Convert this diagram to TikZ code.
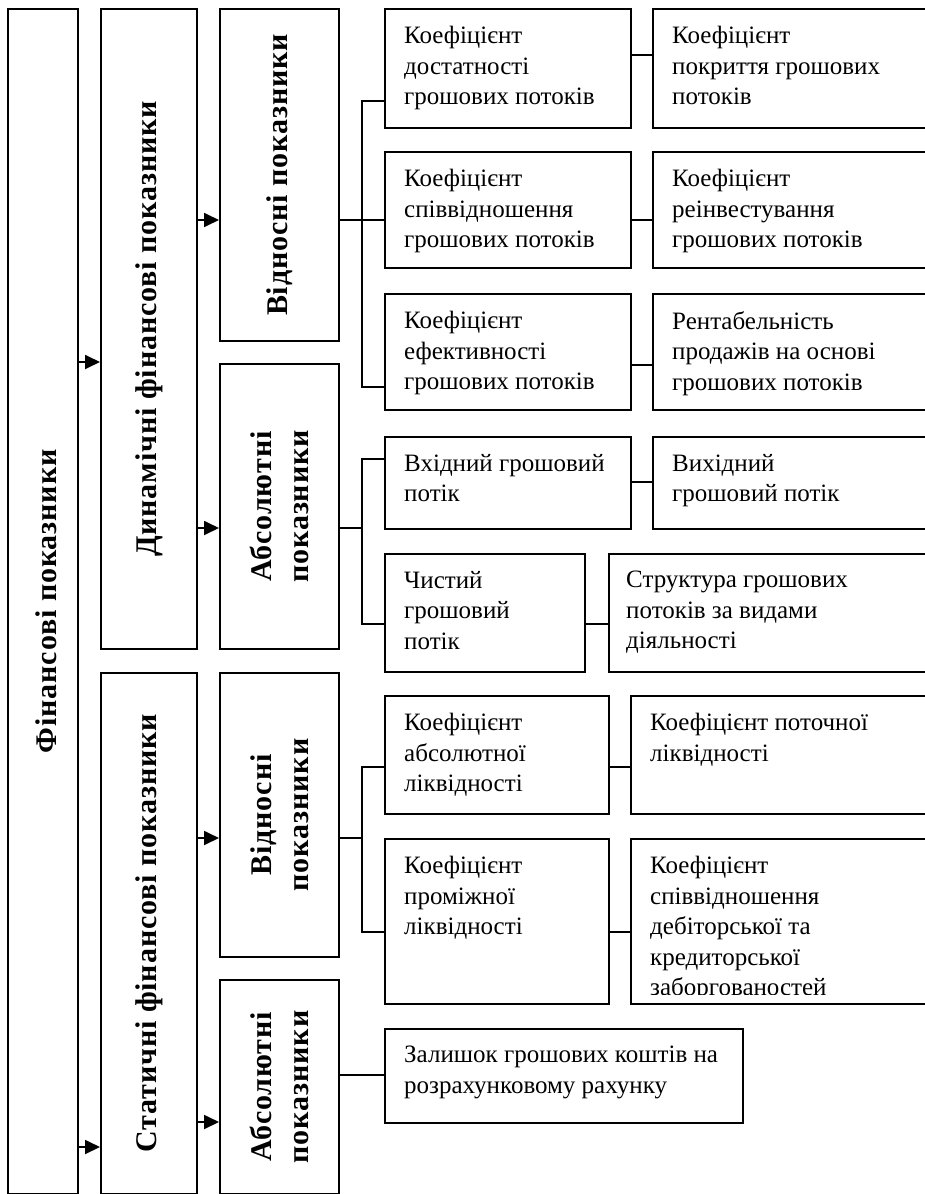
\documentclass[tikz,border=0pt]{standalone}
\usepackage{fontspec}
\setmainfont{Liberation Serif}
\newfontfamily\cellfont{Liberation Serif}
\newfontfamily\headfont[LetterSpace=3]{Liberation Serif}
\usetikzlibrary{arrows.meta}
\tikzset{
       frame/.style = { draw, line width=1.8pt, inner sep=0pt, anchor=north west },
    headtext/.style = { font={\headfont\bfseries\fontsize{30}{37}\selectfont}, rotate=90, align=center, inner sep=0pt },
    celltext/.style = { font={\cellfont\fontsize{25}{30.5}\selectfont}, anchor=north west, align=left,
                        inner sep=0pt, xshift=20pt, yshift=-18pt },
        link/.style = { line width=1.8pt },
       arrow/.style = { link, -{Triangle[length=15pt,width=14pt]} }
}

\begin{document}
\begin{tikzpicture}[x=1pt, y=-1pt]
  \useasboundingbox (0,0) rectangle (924,1194);

  % levels of the connectors
  \coordinate (bx) at (362,0);
  \coordinate (l55)   at (0,55);
  \coordinate (l101)  at (0,101);
  \coordinate (l220)  at (0,220);
  \coordinate (l362)  at (0,362);
  \coordinate (l365)  at (0,365);
  \coordinate (l387)  at (0,387);
  \coordinate (l459)  at (0,459);
  \coordinate (l482)  at (0,482);
  \coordinate (l528)  at (0,528);
  \coordinate (l624)  at (0,624);
  \coordinate (l767)  at (0,767);
  \coordinate (l838)  at (0,838);
  \coordinate (l932)  at (0,932);
  \coordinate (l1075) at (0,1075);
  \coordinate (l1122) at (0,1122);
  \coordinate (l1147) at (0,1147);

  % left columns
  \node[frame, minimum width=70pt,  minimum height=1185pt] (fin)  at (7,8) {};
  \node[frame, minimum width=96pt,  minimum height=640pt]  (dyn)  at (100,8) {};
  \node[frame, minimum width=96pt,  minimum height=521pt]  (stat) at (100,672) {};
  \node[frame, minimum width=119pt, minimum height=332pt]  (dvid) at (219,8) {};
  \node[frame, minimum width=119pt, minimum height=285pt]  (dabs) at (219,363) {};
  \node[frame, minimum width=119pt, minimum height=284pt]  (svid) at (219,672) {};
  \node[frame, minimum width=119pt, minimum height=214pt]  (sabs) at (219,979) {};

  \node[headtext] (fin-t)  at ([xshift=3pt]fin.center)  {Фінансові показники};
  \node[headtext] (dyn-t)  at (dyn.center)  {Динамічні фінансові показники};
  \node[headtext] (stat-t) at (stat.center) {Статичні фінансові показники};
  \node[headtext] (dvid-t) at (dvid.center) {Відносні показники};
  \node[headtext] (dabs-t) at (dabs.center) {Абсолютні\\показники};
  \node[headtext] (svid-t) at (svid.center) {Відносні\\показники};
  \node[headtext] (sabs-t) at (sabs.center) {Абсолютні\\показники};

  % right cells
  \node[frame, minimum width=246pt, minimum height=119pt] (r1a) at (384,8) {};
  \node[frame, minimum width=288pt, minimum height=119pt] (r1b) at (652,8) {};
  \node[frame, minimum width=246pt, minimum height=116pt] (r2a) at (384,151) {};
  \node[frame, minimum width=288pt, minimum height=116pt] (r2b) at (652,151) {};
  \node[frame, minimum width=246pt, minimum height=116pt] (r3a) at (384,293) {};
  \node[frame, minimum width=288pt, minimum height=116pt] (r3b) at (652,293) {};
  \node[frame, minimum width=246pt, minimum height=92pt]  (r4a) at (384,436) {};
  \node[frame, minimum width=288pt, minimum height=92pt]  (r4b) at (652,436) {};
  \node[frame, minimum width=200pt, minimum height=118pt] (r5a) at (384,553) {};
  \node[frame, minimum width=332pt, minimum height=118pt] (r5b) at (608,553) {};
  \node[frame, minimum width=224pt, minimum height=118pt] (r6a) at (384,695) {};
  \node[frame, minimum width=310pt, minimum height=118pt] (r6b) at (630,695) {};
  \node[frame, minimum width=224pt, minimum height=165pt] (r7a) at (384,838) {};
  \node[frame, minimum width=310pt, minimum height=165pt] (r7b) at (630,838) {};
  \node[frame, minimum width=358pt, minimum height=94pt]  (r8)  at (384,1028) {};

  \node[celltext] (r1a-t) at (r1a.north west) {Коефіцієнт\\достатності\\грошових потоків};
  \node[celltext] (r1b-t) at (r1b.north west) {Коефіцієнт\\покриття грошових\\потоків};
  \node[celltext] (r2a-t) at (r2a.north west) {Коефіцієнт\\співвідношення\\грошових потоків};
  \node[celltext] (r2b-t) at (r2b.north west) {Коефіцієнт\\реінвестування\\грошових потоків};
  \node[celltext] (r3a-t) at (r3a.north west) {Коефіцієнт\\ефективності\\грошових потоків};
  \node[celltext] (r3b-t) at (r3b.north west) {Рентабельність\\продажів на основі\\грошових потоків};
  \node[celltext] (r4a-t) at (r4a.north west) {Вхідний грошовий\\потік};
  \node[celltext] (r4b-t) at (r4b.north west) {Вихідний\\грошовий потік};
  \node[celltext] (r5a-t) at (r5a.north west) {Чистий\\грошовий\\потік};
  \node[celltext] (r5b-t) at ([xshift=-2pt]r5b.north west) {Структура грошових\\потоків за видами\\діяльності};
  \node[celltext] (r6a-t) at (r6a.north west) {Коефіцієнт\\абсолютної\\ліквідності};
  \node[celltext] (r6b-t) at (r6b.north west) {Коефіцієнт поточної\\ліквідності};
  \node[celltext] (r7a-t) at (r7a.north west) {Коефіцієнт\\проміжної\\ліквідності};
  \begin{scope}
    \clip (r7b.north west) rectangle ([yshift=10pt]r7b.south east);
    \node[celltext] (r7b-t) at (r7b.north west) {Коефіцієнт\\співвідношення\\дебіторської та\\кредиторської\\заборгованостей};
  \end{scope}
  \node[celltext] (r8-t) at (r8.north west) {Залишок грошових коштів на\\розрахунковому рахунку};

  % arrows
  \draw[arrow] (fin.east |- l362)  -- (dyn.west |- l362);
  \draw[arrow] (fin.east |- l1147) -- (stat.west |- l1147);
  \draw[arrow] (dyn.east |- l220)  -- (dvid.west |- l220);
  \draw[arrow] (dyn.east |- l528)  -- (dabs.west |- l528);
  \draw[arrow] (stat.east |- l838) -- (svid.west |- l838);
  \draw[arrow] (stat.east |- l1122) -- (sabs.west |- l1122);

  % brackets
  \draw[link] (r1a.west |- l101) -| (bx |- l387) -- (r3a.west |- l387);
  \draw[link] (dvid.east |- l220) -- (r2a.west |- l220);
  \draw[link] (r4a.west |- l459) -| (bx |- l624) -- (r5a.west |- l624);
  \draw[link] (dabs.east |- l528) -- (bx |- l528);
  \draw[link] (r6a.west |- l767) -| (bx |- l932) -- (r7a.west |- l932);
  \draw[link] (svid.east |- l838) -- (bx |- l838);
  \draw[link] (sabs.east |- l1075) -- (r8.west |- l1075);

  % pairs
  \draw[link] (r1a.east |- l55)  -- (r1b.west |- l55);
  \draw[link] (r2a.east |- l220) -- (r2b.west |- l220);
  \draw[link] (r3a.east |- l365) -- (r3b.west |- l365);
  \draw[link] (r4a.east |- l482) -- (r4b.west |- l482);
  \draw[link] (r5a.east |- l624) -- (r5b.west |- l624);
  \draw[link] (r6a.east |- l767) -- (r6b.west |- l767);
  \draw[link] (r7a.east |- l932) -- (r7b.west |- l932);
\end{tikzpicture}
\end{document}
